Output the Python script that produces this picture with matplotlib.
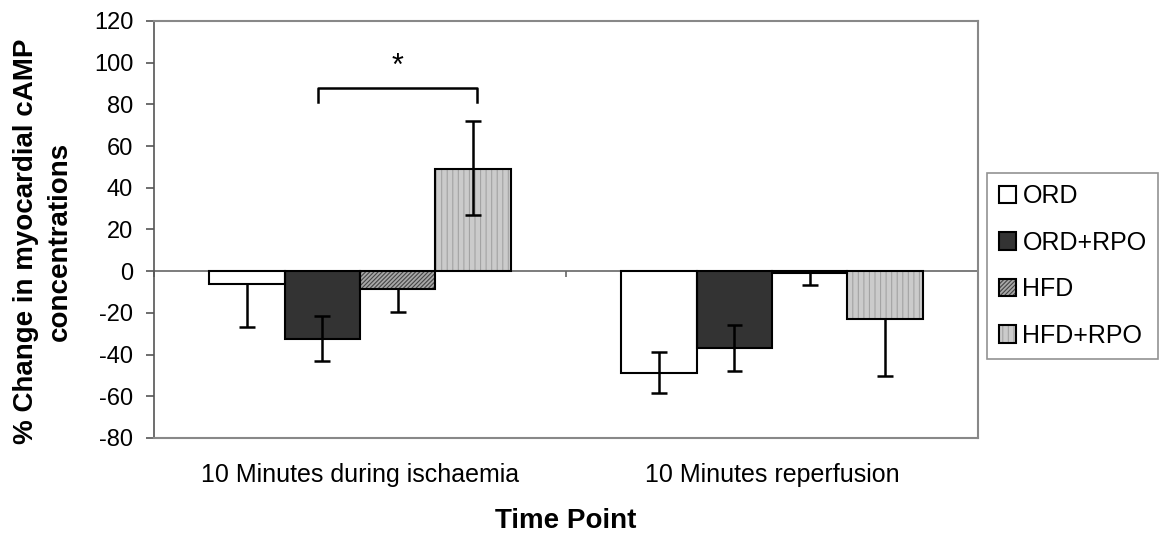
import numpy as np
import matplotlib.pyplot as plt
from matplotlib.patches import Patch

plt.rcParams['font.family'] = ['Liberation Sans', 'DejaVu Sans']
plt.rcParams['axes.unicode_minus'] = False
plt.rcParams['hatch.linewidth'] = 0.8

categories = ['10 Minutes during ischaemia', '10 Minutes reperfusion']
groups = ['ORD', 'ORD+RPO', 'HFD', 'HFD+RPO']

ord_vals = [-6.0, -49.0]
ord_rpo_vals = [-32.7, -37.1]
hfd_vals = [-8.5, -0.8]
hfd_rpo_vals = [49.2, -23.2]

# error bars as drawn (the side crossing zero is not shown in the original)
ord_err_lo = [20.7, 9.6]
ord_err_hi = [0.0, 10.4]
ord_rpo_err_lo = [10.4, 11.0]
ord_rpo_err_hi = [11.1, 11.2]
hfd_err_lo = [11.1, 5.9]
hfd_err_hi = [0.0, 0.0]
hfd_rpo_err_lo = [22.3, 27.3]
hfd_rpo_err_hi = [22.6, 0.0]

values = [ord_vals, ord_rpo_vals, hfd_vals, hfd_rpo_vals]
err_lo = [ord_err_lo, ord_rpo_err_lo, hfd_err_lo, hfd_rpo_err_lo]
err_hi = [ord_err_hi, ord_rpo_err_hi, hfd_err_hi, hfd_rpo_err_hi]

faces = ['white', '#333333', '#a8a8a8', '#cbcbcb']
hatches = [None, None, '////////', '|||']
hatch_cols = ['black', 'black', '#444444', '#a3a3a3']

fig = plt.figure(figsize=(11.63, 5.36), dpi=100)
ax = fig.add_axes([0.1324, 0.183, 0.7086, 0.778])

x = np.arange(len(categories))
w = 0.183
cap = 0.019
handles = []
for i, g in enumerate(groups):
    xi = x + (i - 1.5) * w
    v = np.array(values[i])
    ax.bar(xi, v, w, color=faces[i], hatch=hatches[i], edgecolor=hatch_cols[i],
           linewidth=0, zorder=2)
    ax.bar(xi, v, w, fill=False, edgecolor='black', linewidth=1.5, zorder=3)
    lo = v - np.array(err_lo[i])
    hi = v + np.array(err_hi[i])
    ax.vlines(xi, lo, hi, color='black', linewidth=1.8, zorder=4)
    for xx, a, b, el, eh in zip(xi, lo, hi, err_lo[i], err_hi[i]):
        if el > 0:
            ax.hlines(a, xx - cap, xx + cap, color='black', linewidth=1.8, zorder=4)
        if eh > 0:
            ax.hlines(b, xx - cap, xx + cap, color='black', linewidth=1.8, zorder=4)
    p1 = Patch(facecolor=faces[i], hatch=hatches[i], edgecolor=hatch_cols[i], linewidth=0)
    p2 = Patch(fill=False, edgecolor='black', linewidth=1.5)
    handles.append((p1, p2))

ax.axhline(0, color='#666666', linewidth=1.2, zorder=1)
ax.vlines([-0.5, 0.5, 1.5], -2.6, 0, color='#666666', linewidth=1.2, clip_on=False)

# significance bracket
bx0 = x[0] - 0.5 * w - 0.01
bx1 = x[0] + 1.5 * w + 0.01
ax.plot([bx0, bx0, bx1, bx1], [81, 87.6, 87.6, 81], color='black', linewidth=1.8)
ax.text((bx0 + bx1) / 2, 98, '*', ha='center', va='center', fontsize=22)

ax.set_xlim(-0.5, 1.5)
ax.set_ylim(-80, 120)
ax.set_yticks(np.arange(-80, 121, 20))
ax.set_xticks(x)
ax.set_xticklabels(categories, fontsize=18)
ax.tick_params(axis='x', length=0, pad=18)
ax.tick_params(axis='y', direction='out', length=6, width=1.2, color='#555555',
               labelsize=17, pad=9)
for s in ['top', 'right', 'bottom']:
    ax.spines[s].set_color('#888888')
    ax.spines[s].set_linewidth(1.5)
ax.spines['left'].set_color('#555555')
ax.spines['left'].set_linewidth(1.2)

ax.set_ylabel('% Change in myocardial cAMP\nconcentrations', fontsize=20,
              fontweight='bold', linespacing=1.4)
ax.yaxis.set_label_coords(-0.1347, 0.472)
ax.yaxis.label.set_verticalalignment('center')
ax.set_xlabel('Time Point', fontsize=20, fontweight='bold', labelpad=15)

leg = fig.legend(handles, groups, loc='upper left', bbox_to_anchor=(0.849, 0.677),
                 fontsize=18, frameon=True, fancybox=False, handlelength=0.7,
                 handleheight=0.7, handletextpad=0.25, labelspacing=0.9,
                 borderpad=0.45, borderaxespad=0)
leg.get_frame().set_edgecolor('#777777')
leg.get_frame().set_linewidth(1.2)

fig.savefig('out.png', dpi=100)
